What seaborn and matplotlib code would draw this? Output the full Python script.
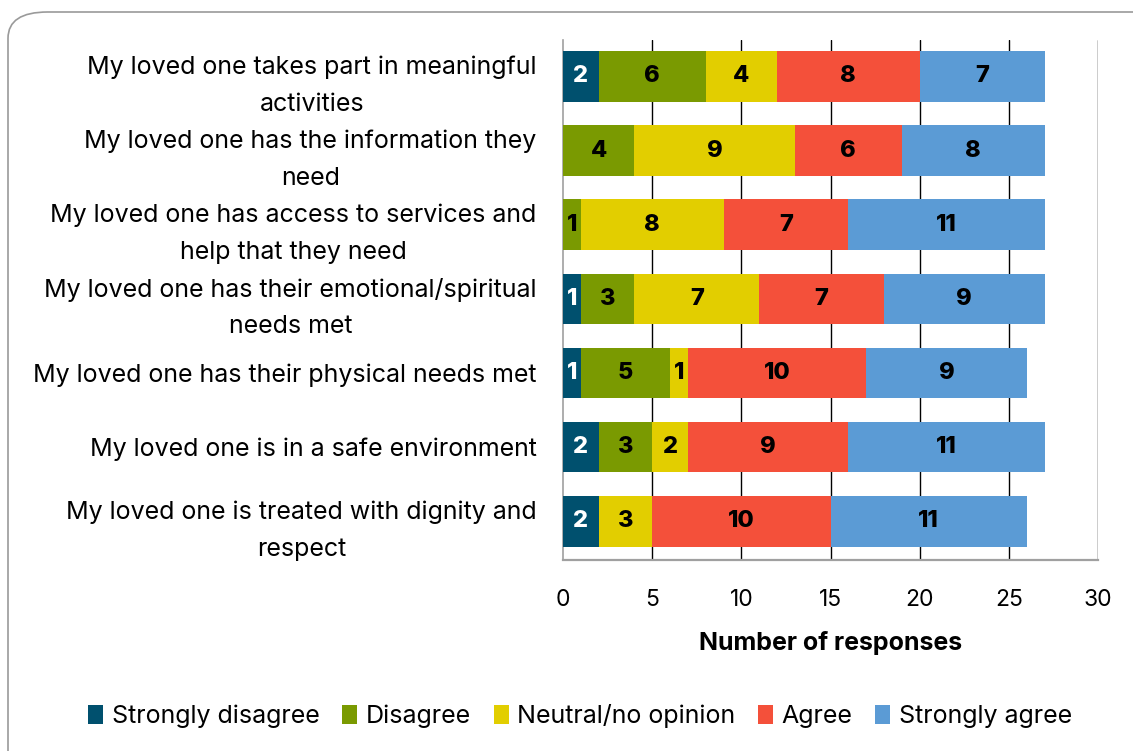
import matplotlib
matplotlib.use("Agg")
import matplotlib.pyplot as plt
from matplotlib.patches import FancyBboxPatch, Patch
import numpy as np
import pandas as pd
import seaborn as sns

statements = [
    "My loved one takes part in meaningful\nactivities",
    "My loved one has the information they\nneed",
    "My loved one has access to services and\nhelp that they need",
    "My loved one has their emotional/spiritual\nneeds met",
    "My loved one has their physical needs met",
    "My loved one is in a safe environment",
    "My loved one is treated with dignity and\nrespect",
]
responses = ["Strongly disagree", "Disagree", "Neutral/no opinion", "Agree", "Strongly agree"]
strongly_disagree = [2, 0, 0, 1, 1, 2, 2]
disagree = [6, 4, 1, 3, 5, 3, 0]
neutral = [4, 9, 8, 7, 1, 2, 3]
agree = [8, 6, 7, 7, 10, 9, 10]
strongly_agree = [7, 8, 11, 9, 9, 11, 11]
x_ticks = [0, 5, 10, 15, 20, 25, 30]

colors = ["#00506E", "#7A9A01", "#E2CE00", "#F4503A", "#5B9BD5"]
label_colors = ["white", "black", "black", "black", "black"]

sns.set_theme(style="white")
plt.rcParams["font.family"] = ["Inter", "DejaVu Sans"]
plt.rcParams["text.color"] = "black"
plt.rcParams["axes.labelcolor"] = "black"
plt.rcParams["xtick.labelcolor"] = "black"
plt.rcParams["ytick.labelcolor"] = "black"

counts = np.array([strongly_disagree, disagree, neutral, agree, strongly_agree])
cum = np.cumsum(counts, axis=0)
ends = pd.DataFrame(cum.T, columns=responses)
ends["statement"] = statements

fig = plt.figure(figsize=(11.33, 7.51), dpi=100)
fig.patches.append(FancyBboxPatch((8 / 1133, -0.05), 1.2, 1 - 12 / 751 + 0.05,
                                  boxstyle="round,pad=0,rounding_size=0.035",
                                  transform=fig.transFigure, facecolor="white",
                                  edgecolor="#9A9A9A", linewidth=1.2, zorder=-1))
ax = fig.add_axes([563 / 1133, 1 - 560 / 751, (1098 - 563) / 1133, (560 - 40) / 751])

# stacked bars: draw cumulative totals from the outermost segment inwards
for i in range(len(responses) - 1, -1, -1):
    sns.barplot(data=ends, x=responses[i], y="statement", orient="h",
                color=colors[i], saturation=1, width=0.68, ax=ax, zorder=3,
                linewidth=0)

for j in range(len(statements)):
    left = 0
    for i in range(len(responses)):
        v = counts[i, j]
        if v > 0:
            ax.text(left + v / 2, j, str(v), ha="center", va="center",
                    fontsize=17, fontweight="heavy", color=label_colors[i], zorder=5)
        left += v

ax.set_xlim(0, 30)
ax.set_ylim(6.52, -0.49)
ax.set_xticks(x_ticks)
ax.set_xticklabels([str(t) for t in x_ticks], fontsize=16.5)
for t in x_ticks[1:]:
    ax.axvline(t, color="black", linewidth=1.0, zorder=1)
ax.set_yticks(range(len(statements)))
ax.set_yticklabels(statements, fontsize=18, linespacing=1.75, multialignment="center")
ax.tick_params(axis="y", length=0, pad=19)
ax.tick_params(axis="x", length=8, width=1.2, color="#A0A0A0", pad=13, direction="out")
ax.set_xlabel("Number of responses", fontsize=18, fontweight="bold", labelpad=14)
ax.set_ylabel("")
for s in ["top", "right"]:
    ax.spines[s].set_visible(False)
ax.spines["bottom"].set_color("#A0A0A0")
ax.spines["bottom"].set_linewidth(1.6)
ax.spines["left"].set_color("#A0A0A0")
ax.spines["left"].set_linewidth(1.2)

handles = [Patch(facecolor=c, edgecolor="none", label=r) for c, r in zip(colors, responses)]
fig.legend(handles=handles, loc="center", bbox_to_anchor=(580 / 1133, 1 - 716 / 751),
           ncol=5, frameon=False, fontsize=18, handlelength=0.6, handleheight=0.8,
           handletextpad=0.35, columnspacing=0.9)

fig.savefig("out.png", dpi=100)
